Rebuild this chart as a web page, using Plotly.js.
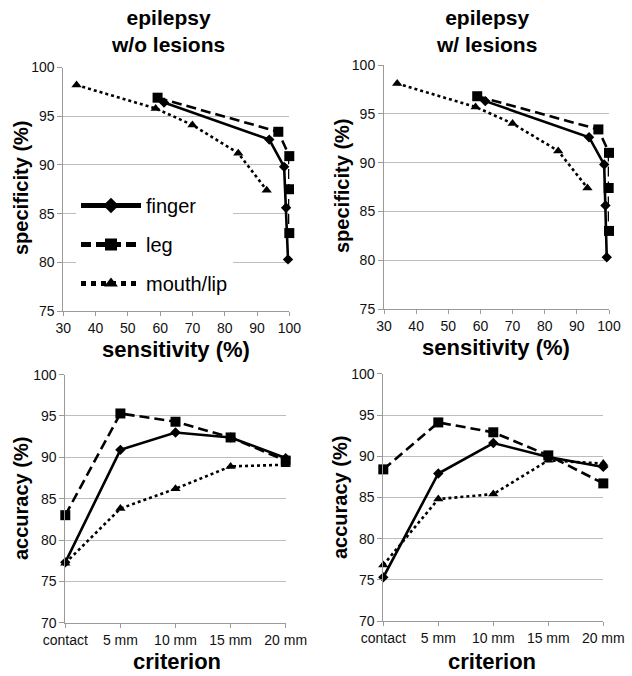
<!DOCTYPE html>
<html>
<head>
<meta charset="utf-8">
<script src="https://cdn.plot.ly/plotly-3.0.1.min.js"></script>
<style>html,body{margin:0;padding:0;background:#fff;}#chart{width:632px;height:676px;}</style>
</head>
<body>
<div id="chart"></div>
<script>
// ---- data ----
const panelTitles = ['epilepsy<br>w/o lesions', 'epilepsy<br>w/ lesions'];
const seriesNames = ['finger', 'leg', 'mouth/lip'];
const criteria = ['contact', '5 mm', '10 mm', '15 mm', '20 mm'];

// top-left: without lesions (sensitivity %, specificity %)
const woFingerSens = [61.2, 93.8, 98.4, 99.0, 99.6];
const woFingerSpec = [96.4, 92.6, 89.8, 85.6, 80.3];
const woLegSens = [59.2, 96.6, 100, 99.9, 100];
const woLegSpec = [96.9, 93.4, 90.9, 87.5, 83.0];
const woMouthSens = [34.1, 58.6, 70.0, 84.2, 93.0];
const woMouthSpec = [98.2, 95.8, 94.1, 91.2, 87.4];

// top-right: with lesions
const wFingerSens = [61.5, 93.8, 98.5, 98.9, 99.3];
const wFingerSpec = [96.3, 92.6, 89.8, 85.6, 80.3];
const wLegSens = [59.0, 96.7, 100, 99.9, 100];
const wLegSpec = [96.8, 93.4, 91.0, 87.4, 83.0];
const wMouthSens = [34.1, 58.5, 70.0, 84.2, 93.3];
const wMouthSpec = [98.1, 95.7, 94.0, 91.2, 87.4];

// bottom: accuracy % by criterion
const woAccFinger = [77.3, 90.9, 93.0, 92.4, 89.9];
const woAccLeg = [83.0, 95.3, 94.3, 92.4, 89.6];
const woAccMouth = [77.2, 83.8, 86.2, 88.9, 89.1];
const wAccFinger = [75.3, 87.9, 91.6, 89.9, 88.7];
const wAccLeg = [88.4, 94.1, 92.9, 90.1, 86.7];
const wAccMouth = [76.8, 84.8, 85.4, 89.5, 89.1];

// ---- styles ----
const FONT = 'Liberation Sans, Arial, sans-serif';
const styles = [
  {dash: 'solid', symbol: 'diamond', size: 8},
  {dash: '10px,5px', symbol: 'square', size: 10},
  {dash: 'dot', symbol: 'triangle-up', size: 9}
];
function tr(i, x, y, xa, ya, showLegend) {
  return {
    type: 'scatter', mode: 'lines+markers', name: seriesNames[i],
    x: x, y: y, xaxis: xa, yaxis: ya,
    line: {color: '#000', width: 2.6, dash: styles[i].dash},
    marker: {color: '#000', symbol: styles[i].symbol, size: styles[i].size},
    cliponaxis: false, showlegend: showLegend, legendgroup: 'g' + i
  };
}
const data = [
  tr(0, woFingerSens, woFingerSpec, 'x', 'y', true),
  tr(1, woLegSens, woLegSpec, 'x', 'y', true),
  tr(2, woMouthSens, woMouthSpec, 'x', 'y', true),
  tr(0, wFingerSens, wFingerSpec, 'x2', 'y2', false),
  tr(1, wLegSens, wLegSpec, 'x2', 'y2', false),
  tr(2, wMouthSens, wMouthSpec, 'x2', 'y2', false),
  tr(0, criteria, woAccFinger, 'x3', 'y3', false),
  tr(1, criteria, woAccLeg, 'x3', 'y3', false),
  tr(2, criteria, woAccMouth, 'x3', 'y3', false),
  tr(0, criteria, wAccFinger, 'x4', 'y4', false),
  tr(1, criteria, wAccLeg, 'x4', 'y4', false),
  tr(2, criteria, wAccMouth, 'x4', 'y4', false)
];

const W = 632, H = 676;
const px = v => v / W, py = v => 1 - v / H;
const tickFont = {family: FONT, size: 14, color: '#111'};
function xNum(l, r, anchor) {
  return {domain: [px(l), px(r)], anchor: anchor, range: [30, 100], dtick: 10, tick0: 30,
    showgrid: false, zeroline: false, showline: true, linecolor: '#9a9a9a', linewidth: 1,
    ticks: 'outside', ticklen: 4, tickcolor: '#9a9a9a', tickfont: tickFont, fixedrange: true};
}
function xCat(l, r, anchor) {
  return {domain: [px(l), px(r)], anchor: anchor, type: 'category', range: [0, 4],
    showgrid: false, zeroline: false, showline: true, linecolor: '#9a9a9a', linewidth: 1,
    ticks: 'outside', ticklen: 4, tickcolor: '#9a9a9a', tickfont: tickFont, fixedrange: true};
}
function yAx(top, bot, anchor, lo, hi) {
  return {domain: [py(bot), py(top)], anchor: anchor, range: [lo, hi], dtick: 5, tick0: lo,
    showgrid: true, gridcolor: '#bdbdbd', gridwidth: 1, zeroline: false,
    showline: true, linecolor: '#9a9a9a', linewidth: 1,
    ticks: 'outside', ticklen: 5, tickcolor: '#9a9a9a', tickfont: tickFont, fixedrange: true};
}

function ann(text, x, y, size, angle) {
  return {text: text, x: px(x), y: py(y), xref: 'paper', yref: 'paper',
    xanchor: 'center', yanchor: 'middle', showarrow: false, textangle: angle || 0,
    font: {family: FONT, size: size, color: '#000', weight: 'bold'}};
}

const layout = {
  width: W, height: H, autosize: false,
  margin: {l: 0, r: 0, t: 0, b: 0},
  paper_bgcolor: '#fff', plot_bgcolor: 'rgba(0,0,0,0)',
  font: {family: FONT},
  xaxis: xNum(63.3, 289.3, 'y'),
  yaxis: yAx(67.5, 311, 'x', 75, 100),
  xaxis2: xNum(384, 609, 'y2'),
  yaxis2: yAx(65, 309, 'x2', 75, 100),
  xaxis3: xCat(65.3, 285.7, 'y3'),
  yaxis3: yAx(374.6, 622.7, 'x3', 70, 100),
  xaxis4: xCat(383.3, 603.3, 'y4'),
  yaxis4: yAx(373.8, 621, 'x4', 70, 100),
  showlegend: true,
  legend: {
    x: px(76), y: py(186), xanchor: 'left', yanchor: 'top',
    bgcolor: '#fff', borderwidth: 0,
    font: {family: FONT, size: 20, color: '#000'},
    itemwidth: 60, itemsizing: 'constant', traceorder: 'grouped', tracegroupgap: 10,
    itemclick: false, itemdoubleclick: false
  },
  annotations: [
    ann(panelTitles[0], 168, 31, 21),
    ann(panelTitles[1], 486, 31, 21),
    ann('specificity (%)', 21, 188, 20, -90),
    ann('specificity (%)', 342, 186, 20, -90),
    ann('accuracy (%)', 21, 499, 20, -90),
    ann('accuracy (%)', 340, 498, 20, -90),
    ann('sensitivity (%)', 176, 349, 22),
    ann('sensitivity (%)', 496, 347, 22),
    ann('criterion', 177, 661, 22),
    ann('criterion', 492, 661, 22)
  ]
};

Plotly.newPlot('chart', data, layout, {displayModeBar: false, staticPlot: true});
</script>
</body>
</html>
